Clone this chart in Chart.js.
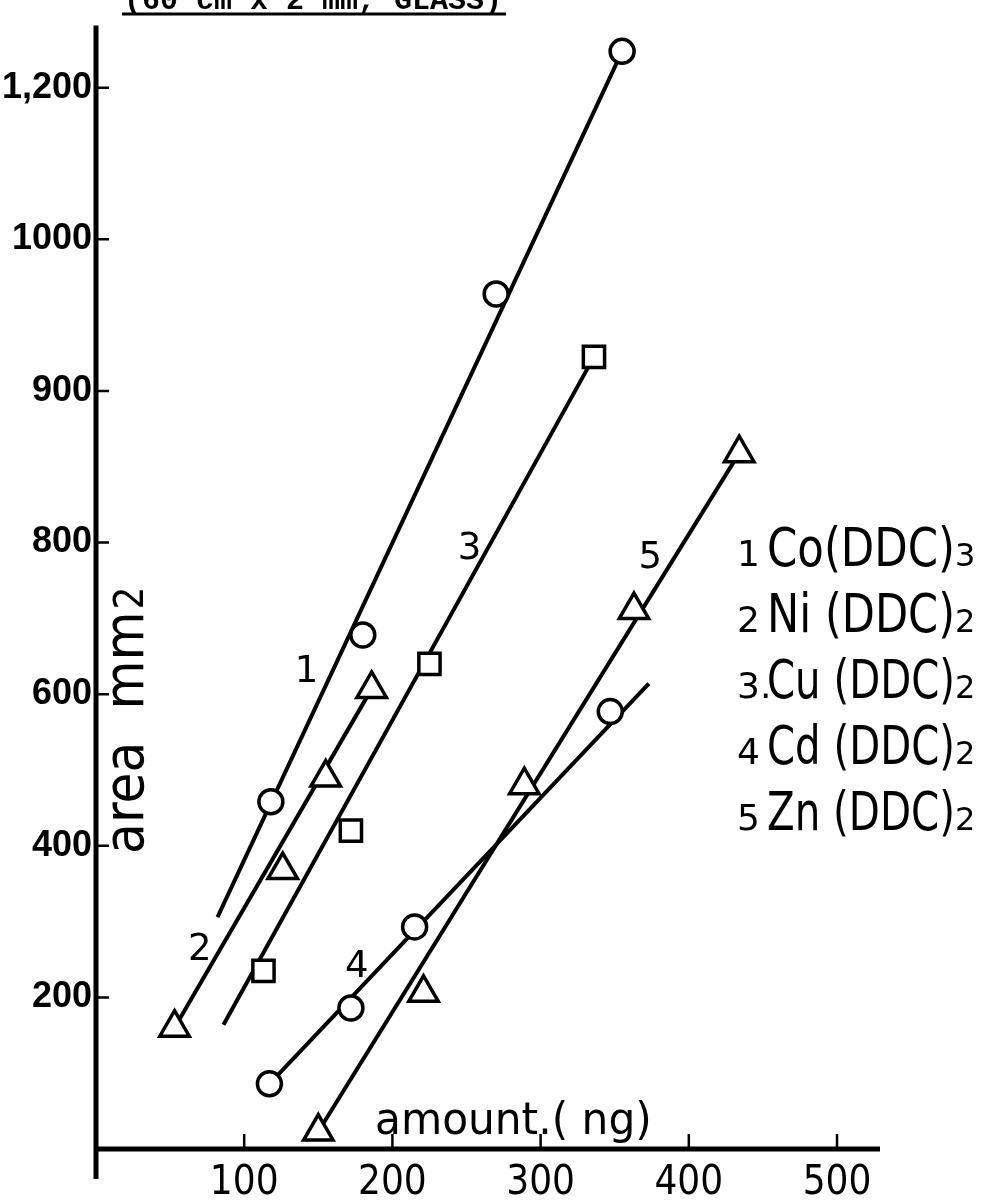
<!DOCTYPE html>
<html>
<head>
<meta charset="utf-8">
<title>Calibration curves</title>
<script src="https://cdn.jsdelivr.net/npm/chart.js@4.4.1/dist/chart.umd.min.js"></script>
<style>
  html, body { margin: 0; padding: 0; background: #fff; }
  #wrap { width: 985px; height: 1201px; position: relative; }
</style>
</head>
<body>
<div id="wrap"><canvas id="chart"></canvas></div>
<script>
// Axis ticks (the hand-lettered y labels are not evenly numbered on the sheet)
const xTickValues = [100, 200, 300, 400, 500];
const xTickLabels = ['100', '200', '300', '400', '500'];
const yTickValues = [200, 400, 600, 800, 1000, 1200, 1400];
const yTickLabels = ['200', '400', '600', '800', '900', '1000', '1,200'];

// Measured points: amount (ng) vs area, in axis units
const coX = [118, 180, 270, 355];
const coY = [458, 678, 1128, 1448];
const niX = [53, 126, 155, 186];
const niY = [160, 368, 490, 607];
const cuX = [113, 172, 225, 336];
const cuY = [235, 420, 640, 1045];
const cdX = [117, 172, 215, 347];
const cdY = [86, 186, 293, 577];
const znX = [150, 221, 289, 363, 434];
const znY = [23, 206, 480, 711, 918];

// Ruled lines drawn through each set (start / end)
const coFitX = [82, 355];
const coFitY = [306, 1448];
const niFitX = [53, 186];
const niFitY = [160, 607];
const cuFitX = [86, 336];
const cuFitY = [164, 1045];
const cdFitX = [117, 373];
const cdFitY = [86, 614];
const znFitX = [150, 434];
const znFitY = [23, 918];

// Curve numbers written next to the lines
const tagText = ['1', '2', '3', '4', '5'];
const tagX = [142, 70, 252, 176, 374];
const tagY = [629, 262, 791, 240, 779];

// Key on the right
const keyNums = ['1', '2', '3.', '4', '5'];
const keyNames = ['Co(DDC)', 'Ni (DDC)', 'Cu (DDC)', 'Cd (DDC)', 'Zn (DDC)'];
const keySubs = ['3', '2', '2', '2', '2'];

const titleText = '(60 cm x 2 mm, GLASS)';
const xTitle = 'amount.( ng)';

function pts(xs, ys) {
    return xs.map((x, i) => ({ x: x, y: ys[i] }));
}

function lineSet(xs, ys) {
    return {
        data: pts(xs, ys),
        showLine: true,
        borderColor: '#000',
        borderWidth: 4,
        pointRadius: 0,
        order: 2
    };
}

function markSet(xs, ys, style, radius) {
    return {
        data: pts(xs, ys),
        showLine: false,
        pointStyle: style,
        pointRadius: radius,
        pointBorderWidth: 3.5,
        pointBorderColor: '#000',
        pointBackgroundColor: '#fff',
        order: 1
    };
}

// Draws the bits that are not regular chart parts: axes, inward ticks, titles, key
const decor = {
    id: 'decor',
    afterDraw(chart) {
        const ctx = chart.ctx;
        const xs = chart.scales.x;
        const ys = chart.scales.y;
        const a = chart.chartArea;
        ctx.save();
        ctx.strokeStyle = '#000';
        ctx.fillStyle = '#000';

        // axes
        ctx.lineWidth = 5;
        ctx.beginPath();
        ctx.moveTo(a.left, a.top);
        ctx.lineTo(a.left, a.bottom + 30);
        ctx.moveTo(a.left - 2, a.bottom);
        ctx.lineTo(a.right, a.bottom);
        ctx.stroke();

        // tick marks point into the plot
        ctx.lineWidth = 2.5;
        ctx.beginPath();
        yTickValues.forEach(v => {
            const py = ys.getPixelForValue(v);
            ctx.moveTo(a.left, py);
            ctx.lineTo(a.left + 13, py);
        });
        xTickValues.forEach(v => {
            const px = xs.getPixelForValue(v);
            ctx.moveTo(px, a.bottom);
            ctx.lineTo(px, a.bottom - 15);
        });
        ctx.stroke();

        // title, clipped at the top of the sheet
        ctx.font = 'bold 30px "Liberation Mono", "DejaVu Sans Mono", monospace';
        ctx.textAlign = 'left';
        ctx.textBaseline = 'alphabetic';
        ctx.fillText(titleText, 124, 9);
        ctx.lineWidth = 3;
        ctx.beginPath();
        ctx.moveTo(122, 14);
        ctx.lineTo(506, 14);
        ctx.stroke();

        // x title sits inside the plot
        ctx.save();
        ctx.font = '45px "DejaVu Sans", sans-serif';
        ctx.translate(375, 1134);
        ctx.scale(0.94, 1);
        ctx.fillText(xTitle, 0, 0);
        ctx.restore();

        // y title, rotated, inside the plot
        ctx.save();
        ctx.translate(143, 854);
        ctx.rotate(-Math.PI / 2);
        ctx.font = '56px "DejaVu Sans", sans-serif';
        ctx.scale(0.9, 1);
        ctx.fillText('area', 0, 0);
        const wArea = ctx.measureText('area  ').width;
        ctx.fillText('mm', wArea, 0);
        const wMm = ctx.measureText('mm').width;
        ctx.font = '40px "DejaVu Sans", sans-serif';
        ctx.fillText('2', wArea + wMm + 2, 0);
        ctx.restore();

        // curve numbers
        ctx.font = '37px "DejaVu Sans", sans-serif';
        ctx.textAlign = 'center';
        ctx.textBaseline = 'middle';
        tagText.forEach((t, i) => {
            ctx.fillText(t, xs.getPixelForValue(tagX[i]), ys.getPixelForValue(tagY[i]));
        });

        // key
        ctx.textAlign = 'left';
        ctx.textBaseline = 'alphabetic';
        keyNums.forEach((n, i) => {
            const base = 566 + i * 66;
            ctx.font = '36px "DejaVu Sans", sans-serif';
            ctx.fillText(n, 737, base);
            ctx.save();
            ctx.font = '54px "DejaVu Sans", sans-serif';
            const w = ctx.measureText(keyNames[i]).width;
            ctx.translate(767, base);
            ctx.scale(188 / w, 1);
            ctx.fillText(keyNames[i], 0, 0);
            ctx.restore();
            ctx.font = '32px "DejaVu Sans", sans-serif';
            ctx.fillText(keySubs[i], 955, base);
        });

        ctx.restore();
    }
};

const ctx = document.getElementById('chart').getContext('2d');
new Chart(ctx, {
    type: 'scatter',
    data: {
        datasets: [
            lineSet(coFitX, coFitY),
            lineSet(niFitX, niFitY),
            lineSet(cuFitX, cuFitY),
            lineSet(cdFitX, cdFitY),
            lineSet(znFitX, znFitY),
            markSet(coX, coY, 'circle', 12),
            markSet(niX, niY, 'triangle', 17),
            markSet(cuX, cuY, 'rect', 15),
            markSet(cdX, cdY, 'circle', 12),
            markSet(znX, znY, 'triangle', 17)
        ]
    },
    options: {
        responsive: true,
        maintainAspectRatio: false,
        animation: false,
        layout: { padding: { left: 0, right: 105, top: 0, bottom: 0 } },
        plugins: {
            legend: { display: false },
            tooltip: { enabled: false }
        },
        scales: {
            x: {
                type: 'linear',
                min: 0,
                max: 529,
                grid: { display: false, drawTicks: false },
                border: { display: false },
                afterFit(scale) { scale.height = 52; },
                afterBuildTicks(scale) { scale.ticks = xTickValues.map(v => ({ value: v })); },
                ticks: {
                    autoSkip: false,
                    maxRotation: 0,
                    padding: 11,
                    color: '#000',
                    font: { family: '"Liberation Sans Narrow", "DejaVu Sans Condensed", "Liberation Sans", sans-serif', size: 40 },
                    callback: v => xTickLabels[xTickValues.indexOf(v)]
                }
            },
            y: {
                type: 'linear',
                min: 0,
                max: 1482,
                grid: { display: false, drawTicks: false },
                border: { display: false },
                afterFit(scale) { scale.width = 96; },
                afterBuildTicks(scale) { scale.ticks = yTickValues.map(v => ({ value: v })); },
                ticks: {
                    autoSkip: false,
                    padding: 4,
                    color: '#000',
                    font: { family: '"Liberation Sans", "DejaVu Sans", sans-serif', size: 36, weight: 'bold' },
                    callback: v => yTickLabels[yTickValues.indexOf(v)]
                }
            }
        }
    },
    plugins: [decor]
});
</script>
</body>
</html>
